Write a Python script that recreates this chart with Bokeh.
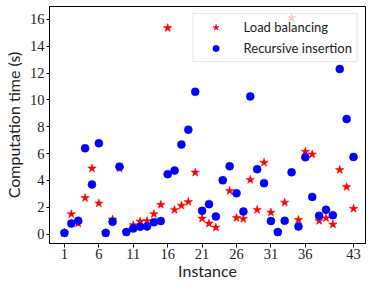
from bokeh.plotting import figure
from bokeh.models import FixedTicker, Range1d, Legend, LegendItem, ColumnDataSource
from bokeh.embed import file_html
from bokeh.resources import INLINE

instances = list(range(1, 44))
load_balancing = [0.1, 1.5, 0.8, 2.7, 4.9, 2.3, 0.1, 1.1, 4.9, 0.15,
                  0.68, 0.95, 0.98, 1.5, 2.2, 15.35, 1.82, 2.13, 2.41, 4.6,
                  1.17, 0.8, 0.5, 4.0, 3.23, 1.22, 1.15, 4.05, 1.82, 5.33,
                  1.62, 0.15, 2.36, 16.1, 1.07, 6.15, 5.95, 1.0, 1.2, 0.73,
                  4.79, 3.52, 1.9]
recursive_insertion = [0.1, 0.8, 1.0, 6.4, 3.7, 6.77, 0.1, 0.93, 5.03, 0.16,
                       0.43, 0.56, 0.58, 0.9, 0.98, 4.47, 4.74, 6.67, 7.78, 10.6,
                       1.74, 2.24, 1.32, 4.02, 5.06, 3.05, 1.69, 10.26, 4.84, 3.8,
                       0.98, 0.16, 1.0, 4.61, 0.58, 5.73, 2.78, 1.37, 1.82, 1.42,
                       12.29, 8.57, 5.75]
x_ticks = [1, 6, 11, 16, 21, 26, 31, 36, 43]
y_ticks = [0, 2, 4, 6, 8, 10, 12, 14, 16]

src = ColumnDataSource(dict(x=instances, lb=load_balancing, ri=recursive_insertion))

p = figure(width=366, height=282, output_backend="svg", toolbar_location=None,
           x_range=Range1d(-1.17, 44.74), y_range=Range1d(-0.69, 16.95),
           min_border_left=48, min_border_right=1, min_border_top=6, min_border_bottom=39)

p.xgrid.visible = False
p.ygrid.visible = False
p.outline_line_color = "black"
p.outline_line_width = 1
p.background_fill_color = "white"

r1 = p.scatter("x", "lb", source=src, marker="star", size=9, fill_color="#ff0000",
               line_color="#ff0000", line_width=0.5)
r2 = p.scatter("x", "ri", source=src, marker="circle", size=8, fill_color="#0000ff",
               line_color="#0000ff", line_width=0.5)

for ax in (p.xaxis[0], p.yaxis[0]):
    ax.major_label_text_font = "Liberation Serif"
    ax.major_label_text_font_size = "14.5px"
    ax.major_label_text_color = "#222222"
    ax.axis_label_text_font = "Lato"
    ax.axis_label_text_font_style = "normal"
    ax.axis_label_text_font_size = "16px"
    ax.axis_label_text_color = "#222222"
    ax.minor_tick_line_color = None
    ax.major_tick_in = 0
    ax.axis_line_color = "black"
    ax.major_tick_line_color = "black"

p.xaxis.major_tick_out = 4
p.xaxis.major_label_standoff = 1
p.xaxis.axis_label_standoff = -1
p.yaxis.major_tick_out = 3
p.yaxis.major_label_standoff = 2
p.yaxis.axis_label_standoff = 4

p.xaxis.ticker = FixedTicker(ticks=x_ticks)
p.yaxis.ticker = FixedTicker(ticks=y_ticks)
p.xaxis.axis_label = "Instance"
p.yaxis.axis_label = "Computation time (s)"

legend = Legend(items=[LegendItem(label="Load balancing", renderers=[r1]),
                       LegendItem(label="Recursive insertion", renderers=[r2])],
                location="top_right")
legend.label_text_font = "Lato"
legend.label_text_font_size = "13px"
legend.label_text_color = "#222222"
legend.background_fill_alpha = 0.8
legend.border_line_color = "#cccccc"
legend.border_line_width = 1
legend.padding = 5
legend.glyph_width = 34
legend.glyph_height = 16
legend.label_height = 16
legend.label_standoff = 11
legend.spacing = 5
legend.margin = 7
p.add_layout(legend)

open("out.html", "w").write(file_html(p, INLINE))
